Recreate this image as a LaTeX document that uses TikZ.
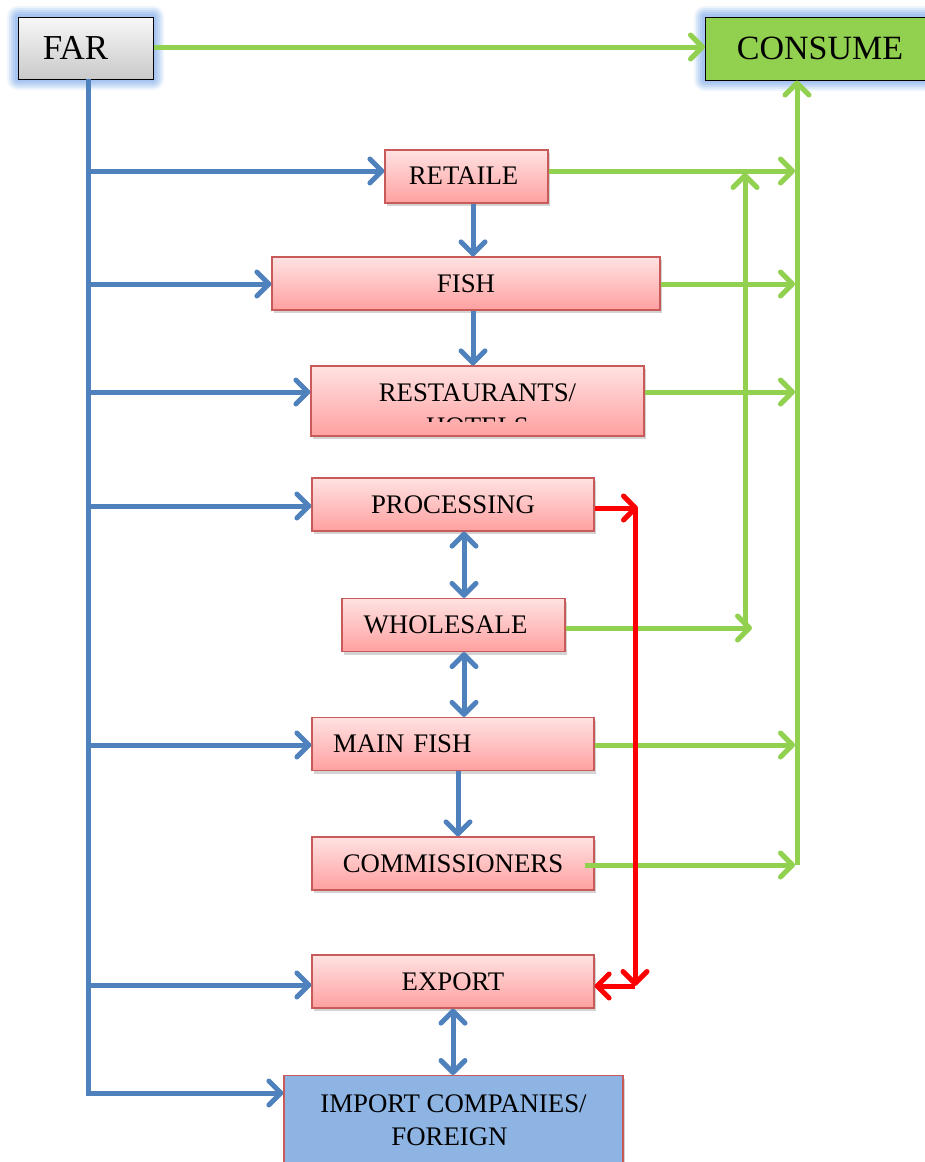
\documentclass[tikz,border=0pt]{standalone}
\usepackage{fontspec}
\setmainfont{Liberation Serif}
\usetikzlibrary{arrows.meta,shadows,calc}
\definecolor{lblue}{RGB}{79,129,189}
\definecolor{lgreen}{RGB}{146,208,80}
\definecolor{lred}{RGB}{255,0,0}
\definecolor{pinktop}{RGB}{255,226,226}
\definecolor{pinkbot}{RGB}{255,160,160}
\definecolor{pinkedge}{RGB}{200,90,90}
\definecolor{impblue}{RGB}{142,180,227}
\definecolor{glowblue}{RGB}{140,180,235}
\tikzset{
  box/.style={draw=pinkedge, line width=1.2pt, top color=pinktop, bottom color=pinkbot,
    minimum height=53pt, inner sep=0pt, font=\fontsize{26.8}{33}\selectfont,
    drop shadow={shadow xshift=1.5pt, shadow yshift=-3pt, opacity=0.35}},
  tip/.style={-{Straight Barb[length=12pt,width=24pt,line cap=round,line join=round]}},
  bline/.style={lblue, line width=5pt, tip},
  bboth/.style={lblue, line width=5pt, {Straight Barb[length=12pt,width=24pt,line cap=round,line join=round]}-{Straight Barb[length=12pt,width=24pt,line cap=round,line join=round]}},
  gline/.style={lgreen, line width=5pt, tip},
  rline/.style={lred, line width=5pt, tip},
  plain/.style={line width=5pt},
}
\begin{document}
\begin{tikzpicture}[x=1pt,y=-1pt]
\useasboundingbox (0,0) rectangle (925,1162);
% glows
\foreach \d/\o in {11/0.15,9/0.2,7/0.25,5/0.3,3/0.35}{
  \fill[glowblue, opacity=\o, rounded corners=\d pt] (18-\d,17-\d) rectangle (153+\d,79+\d);
  \fill[glowblue, opacity=\o, rounded corners=\d pt] (705-\d,17-\d) rectangle (940+\d,80+\d);
}
\node[draw=black, line width=1pt, top color=gray!6, bottom color=gray!42, minimum width=135pt, minimum height=62pt, inner sep=0pt, font=\fontsize{35}{40}\selectfont] (far) at (85.5,48) {\hspace*{-20pt}FAR};
\node[draw=black, line width=1pt, fill=lgreen, minimum width=235pt, minimum height=63pt, inner sep=0pt, anchor=west, font=\fontsize{34}{40}\selectfont] (consume) at (705,48.5) {\hspace*{-6pt}CONSUME};

\node[box, minimum width=163pt] (retail) at (466.5,176.5) {\hspace*{-6pt}\raisebox{2pt}{RETAILE}};
\node[box, minimum width=388pt] (fish) at (466,283.5) {FISH};
\node[box, minimum width=333pt, minimum height=70pt] (rest) at (477.5,401) {};
\begin{scope}
\clip (311,366) rectangle (644,421);
\node[font=\fontsize{26.8}{34}\selectfont, align=center, anchor=north] (resttext) at (477.5,380) {RESTAURANTS/\\HOTELS};
\end{scope}
\node[box, minimum width=282pt] (proc) at (453,504.5) {\raisebox{-2pt}{PROCESSING}};
\node[box, minimum width=223pt] (whole) at (453.5,625) {\hspace*{-16pt}\raisebox{-2pt}{WHOLESALE}};
\node[box, minimum width=282pt, text width=240pt, inner xsep=21pt, align=left] (main) at (453,744) {MAIN FISH};
\node[box, minimum width=282pt] (comm) at (453,863.5) {COMMISSIONERS};
\node[box, minimum width=282pt] (export) at (453,981.5) {\raisebox{-2pt}{EXPORT}};
\node[box, draw=pinkedge, top color=impblue, bottom color=impblue, minimum width=339pt, minimum height=100pt, anchor=north] (import) at (453.5,1075) {};
\node[font=\fontsize{26.8}{33}\selectfont, align=center, anchor=north] (importtext) at (453.5,1091) {IMPORT COMPANIES/\\\hspace*{-8pt}FOREIGN};

% blue trunk
\coordinate (t0) at (88,79);
\coordinate (tend) at (88,1093);
\draw[lblue, plain] (t0) -- ($(tend)+(0,2.5)$);
\foreach \y/\n in {171/retail,284/fish,392/rest,506/proc,745/main,985/export}{
  \coordinate (b\n) at (88,\y);
  \draw[bline] (b\n) -- (\n.west |- b\n);
}
\draw[bline] (tend) -- (import.west |- tend);
\draw[bline] (retail.south -| 473,0) -- (fish.north -| 473,0);
\draw[bline] (fish.south -| 473,0) -- (rest.north -| 473,0);
\draw[bboth] (proc.south -| 464,0) -- (whole.north -| 464,0);
\draw[bboth] (whole.south -| 464,0) -- (main.north -| 464,0);
\draw[bline] (main.south -| 458,0) -- (comm.north -| 458,0);
\draw[bboth] (export.south -| 453,0) -- (import.north -| 453,0);

% green
\coordinate (gv) at (797,865);
\coordinate (gw) at (745,628);
\draw[gline] (far.east |- 0,47) -- (consume.west |- 0,47);
\draw[lgreen, plain] (gv) -- (797,171);
\draw[gline] (797,171) -- (consume.south -| gv);
\draw[gline] (gw) -- (745,173);
\draw[gline] (retail.east |- 0,171) -- (795,171);
\draw[gline] (fish.east |- 0,284) -- (795,284);
\draw[gline] (rest.east |- 0,392) -- (795,392);
\draw[gline] (whole.east |- gw) -- (752,628);
\draw[gline] (main.east |- 0,745) -- (795,745);
\draw[gline] (585,865) -- (795,865);

% red
\coordinate (r1) at (638,508);
\coordinate (r2) at (635,986);
\draw[rline] (proc.east |- r1) -- (r1);
\draw[rline] (635,508) -- (r2);
\draw[rline] (r2) -- (export.east |- r2);
\end{tikzpicture}
\end{document}
